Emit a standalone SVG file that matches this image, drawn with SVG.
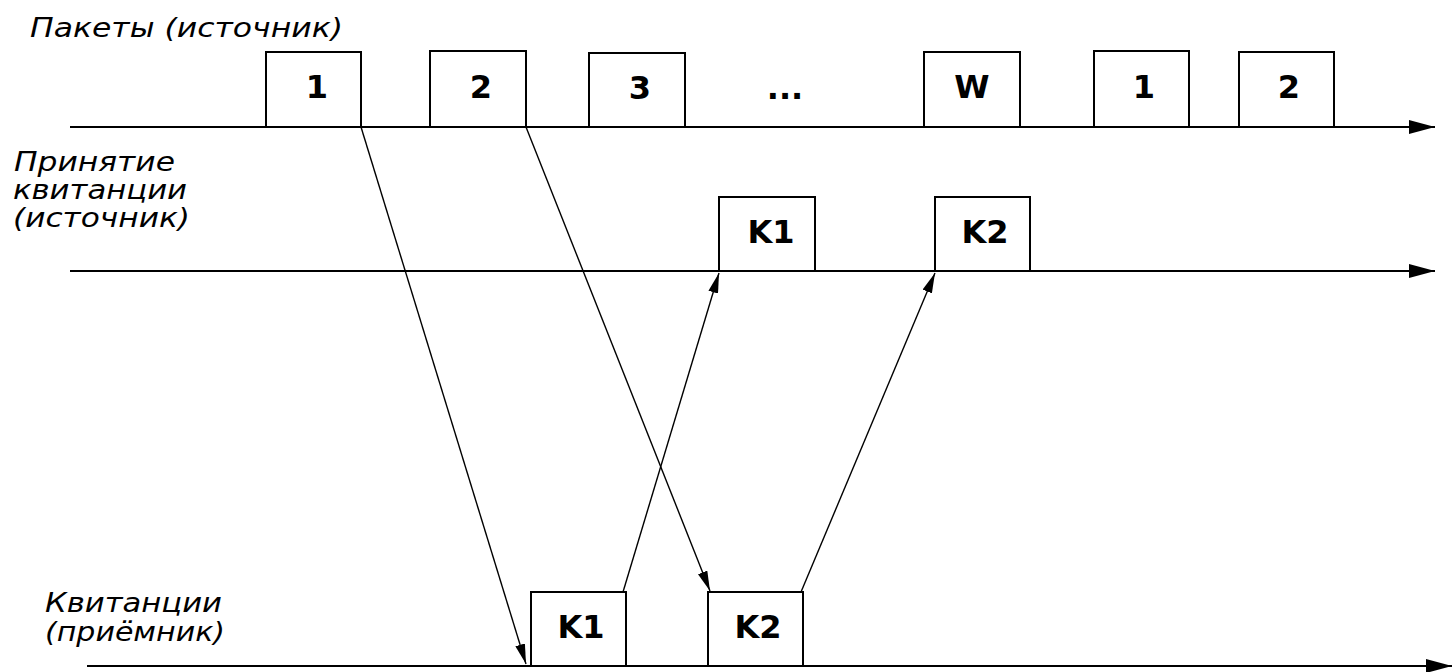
<svg xmlns="http://www.w3.org/2000/svg" width="1454" height="672" viewBox="0 0 1454 672">
<defs>
<style>
.lbl{font-family:"DejaVu Sans","Liberation Sans",sans-serif;font-style:italic;font-size:26px;fill:#000}
.bx{fill:#fff;stroke:#000;stroke-width:2}
.bt{font-family:"DejaVu Sans","Liberation Sans",sans-serif;font-weight:bold;font-size:32px;fill:#000;text-anchor:middle}
.axis{stroke:#000;stroke-width:2;fill:none}
.conn{stroke:#000;stroke-width:1.4;fill:none}
</style>
<marker id="ah" viewBox="0 0 20 10" refX="20" refY="5" markerWidth="20" markerHeight="10" markerUnits="userSpaceOnUse" orient="auto">
<path d="M0,0 L20,5 L0,10 z" fill="#000"/>
</marker>
<marker id="big" viewBox="0 0 26 14" refX="26" refY="7" markerWidth="26" markerHeight="14" markerUnits="userSpaceOnUse" orient="auto">
<path d="M0,0 L26,7 L0,14 z" fill="#000"/>
</marker>
</defs>
<rect width="1454" height="672" fill="#fff"/>
<g id="labels">
<text class="lbl" x="30" y="37" textLength="313" lengthAdjust="spacingAndGlyphs">Пакеты (источник)</text>
<text class="lbl" x="14" y="171" textLength="161" lengthAdjust="spacingAndGlyphs">Принятие</text>
<text class="lbl" x="13" y="199" textLength="174" lengthAdjust="spacingAndGlyphs">квитанции</text>
<text class="lbl" x="13" y="227" textLength="177" lengthAdjust="spacingAndGlyphs">(источник)</text>
<text class="lbl" x="45" y="612" textLength="177" lengthAdjust="spacingAndGlyphs">Квитанции</text>
<text class="lbl" x="45" y="641" textLength="180" lengthAdjust="spacingAndGlyphs">(приёмник)</text>
</g>
<g id="axes">
<line class="axis" x1="70" y1="127" x2="1435" y2="127" marker-end="url(#big)"/>
<line class="axis" x1="70" y1="271" x2="1435" y2="271" marker-end="url(#big)"/>
<line class="axis" x1="87" y1="666" x2="1452" y2="666" marker-end="url(#big)"/>
</g>
<g id="p1"><rect class="bx" x="266" y="52" width="95" height="75"/><text class="bt" x="317" y="98">1</text></g>
<g id="p2"><rect class="bx" x="430" y="51" width="96" height="76"/><text class="bt" x="481" y="98">2</text></g>
<g id="p3"><rect class="bx" x="589" y="53" width="96" height="74"/><text class="bt" x="640" y="99">3</text></g>
<g id="dots"><text class="bt" x="785" y="99">...</text></g>
<g id="pw"><rect class="bx" x="924" y="52" width="96" height="75"/><text class="bt" x="972" y="98">W</text></g>
<g id="p1b"><rect class="bx" x="1094" y="51" width="95" height="76"/><text class="bt" x="1144" y="98">1</text></g>
<g id="p2b"><rect class="bx" x="1239" y="52" width="95" height="75"/><text class="bt" x="1289" y="98">2</text></g>
<g id="k1s"><rect class="bx" x="719" y="197" width="96" height="74"/><text class="bt" x="771" y="243">K1</text></g>
<g id="k2s"><rect class="bx" x="935" y="197" width="95" height="74"/><text class="bt" x="985" y="243">K2</text></g>
<g id="k1r"><rect class="bx" x="531" y="592" width="95" height="74"/><text class="bt" x="581" y="638">K1</text></g>
<g id="k2r"><rect class="bx" x="708" y="592" width="95" height="74"/><text class="bt" x="758" y="638">K2</text></g>
<g id="connectors">
<line class="conn" x1="361" y1="127" x2="526" y2="664" marker-end="url(#ah)"/>
<line class="conn" x1="526" y1="127" x2="710" y2="591" marker-end="url(#ah)"/>
<line class="conn" x1="623" y1="592" x2="719" y2="273" marker-end="url(#ah)"/>
<line class="conn" x1="801" y1="592" x2="935" y2="273" marker-end="url(#ah)"/>
</g>
</svg>
